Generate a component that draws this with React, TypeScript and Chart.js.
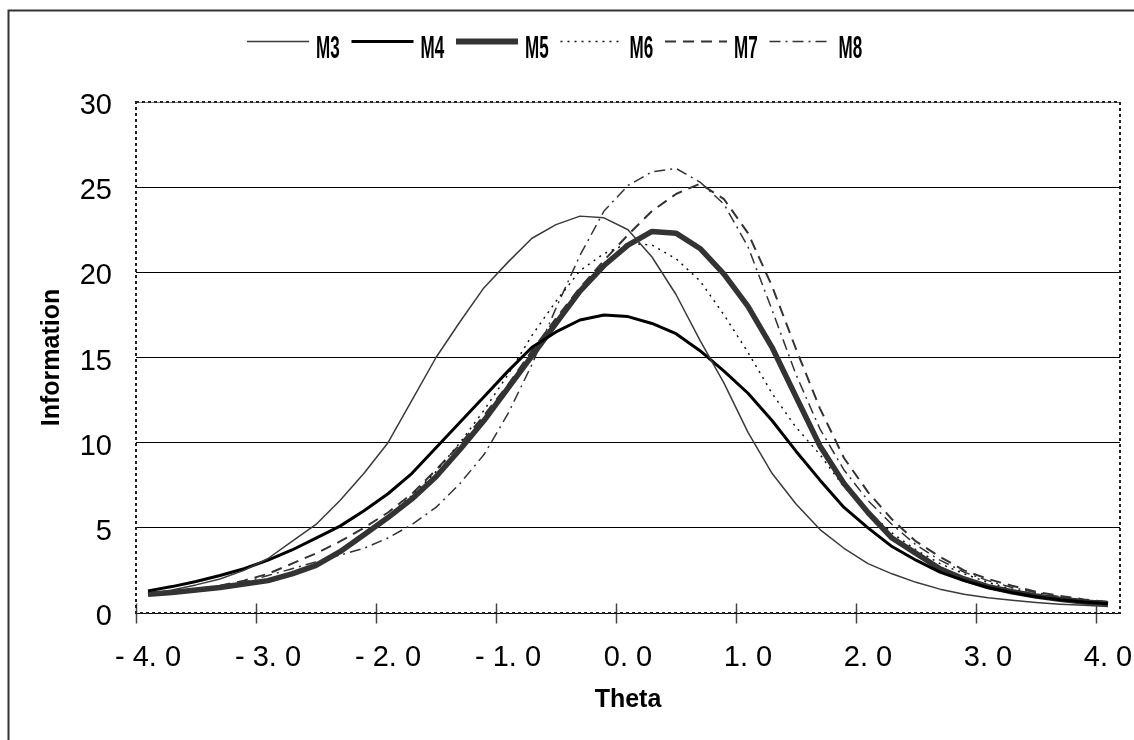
import React, { useEffect, useRef } from "react";
import { Chart, registerables } from "chart.js";

Chart.register(...registerables);

// ---- data ----
const thetas = [
  -4.0, -3.8, -3.6, -3.4, -3.2, -3.0, -2.8, -2.6, -2.4, -2.2,
  -2.0, -1.8, -1.6, -1.4, -1.2, -1.0, -0.8, -0.6, -0.4, -0.2,
  0.0, 0.2, 0.4, 0.6, 0.8, 1.0, 1.2, 1.4, 1.6, 1.8,
  2.0, 2.2, 2.4, 2.6, 2.8, 3.0, 3.2, 3.4, 3.6, 3.8, 4.0,
];

const xTickLabels = ["- 4. 0", "- 3. 0", "- 2. 0", "- 1. 0", "0. 0", "1. 0", "2. 0", "3. 0", "4. 0"];
const xLabelEvery = 5;

const yMin = 0;
const yMax = 30;
const yStep = 5;

const seriesNames = ["M3", "M4", "M5", "M6", "M7", "M8"];

const M3 = [
  1.1, 1.35, 1.65, 2.0, 2.5, 3.2, 4.2, 5.2, 6.6, 8.2,
  10.0, 12.5, 15.0, 17.1, 19.1, 20.6, 22.0, 22.8, 23.3, 23.2,
  22.5, 20.9, 18.7, 16.0, 13.5, 10.6, 8.2, 6.4, 4.9, 3.8,
  2.9, 2.3, 1.8, 1.4, 1.1, 0.9, 0.75, 0.62, 0.52, 0.45, 0.38,
];
const M4 = [
  1.3, 1.55, 1.85, 2.2, 2.6, 3.1, 3.7, 4.4, 5.1, 6.0,
  7.0, 8.2, 9.7, 11.2, 12.7, 14.2, 15.6, 16.5, 17.2, 17.5,
  17.4, 17.0, 16.4, 15.4, 14.2, 12.9, 11.3, 9.5, 7.8, 6.2,
  5.0, 3.9, 3.1, 2.4, 1.9, 1.5, 1.2, 0.95, 0.78, 0.65, 0.55,
];
const M5 = [
  1.1, 1.2, 1.35, 1.5, 1.7, 1.9, 2.3, 2.8, 3.6, 4.6,
  5.6, 6.7, 8.0, 9.6, 11.3, 13.2, 15.1, 17.0, 18.9, 20.4,
  21.6, 22.4, 22.3, 21.4, 19.9, 18.0, 15.6, 12.7, 9.8, 7.6,
  5.9, 4.4, 3.5, 2.6, 2.0, 1.55, 1.25, 1.0, 0.8, 0.65, 0.55,
];
const M6 = [
  1.1, 1.2, 1.35, 1.5, 1.7, 1.95, 2.35, 2.9, 3.6, 4.6,
  5.7, 6.9, 8.3, 10.0, 11.9, 14.0, 16.3, 18.3, 20.1, 21.1,
  21.7, 21.6, 20.8, 19.5, 17.5, 15.3, 12.9, 10.9, 9.3, 7.4,
  6.0, 4.7, 3.7, 2.9, 2.3, 1.8, 1.4, 1.1, 0.9, 0.75, 0.62,
];
const M7 = [
  1.1, 1.2, 1.4, 1.6, 1.9, 2.3, 2.9, 3.5, 4.2, 5.0,
  5.9, 7.0, 8.4, 9.9, 11.6, 13.4, 15.4, 17.3, 19.1, 20.7,
  22.2, 23.6, 24.6, 25.2, 24.3, 22.3, 19.2, 15.5, 12.0, 9.1,
  7.1, 5.5, 4.2, 3.3, 2.5, 2.0, 1.6, 1.25, 1.0, 0.8, 0.65,
];
const M8 = [
  1.05, 1.2, 1.35, 1.55, 1.8, 2.2, 2.6, 3.0, 3.4, 3.8,
  4.4, 5.2, 6.2, 7.6, 9.3, 11.7, 14.6, 17.9, 21.0, 23.6,
  25.1, 25.9, 26.1, 25.3, 24.0, 21.5, 17.8, 14.0, 10.8, 8.4,
  6.6, 5.2, 4.0, 3.1, 2.4, 1.9, 1.5, 1.2, 0.95, 0.75, 0.6,
];

const seriesValues = [M3, M4, M5, M6, M7, M8];

// ---- styles ----
const seriesStyles = [
  { color: "#3a3a3a", width: 1.5, dash: [] as number[] },
  { color: "#000000", width: 3, dash: [] as number[] },
  { color: "#333333", width: 5.5, dash: [] as number[] },
  { color: "#111111", width: 1.5, dash: [2, 5] },
  { color: "#333333", width: 2, dash: [11, 7] },
  { color: "#333333", width: 1.5, dash: [11, 5, 2, 5] },
];

const FONT = "'Liberation Sans', Arial, sans-serif";

const chromePlugin = {
  id: "chrome",
  beforeDraw(chart: any) {
    const ctx = chart.ctx;
    ctx.save();
    ctx.fillStyle = "#ffffff";
    ctx.fillRect(0, 0, chart.width, chart.height);
    ctx.strokeStyle = "#333333";
    ctx.lineWidth = 2;
    ctx.strokeRect(8.5, 10.5, chart.width + 100, chart.height + 100);
    ctx.restore();
  },
  beforeDatasetsDraw(chart: any) {
    const { ctx, chartArea: ca, scales } = chart;
    const xs = scales.x;
    ctx.save();
    const by = Math.round(ca.bottom) + 0.5;
    ctx.strokeStyle = "#000";
    ctx.lineWidth = 1;
    ctx.beginPath();
    ctx.moveTo(ca.left, by);
    ctx.lineTo(ca.right, by);
    ctx.stroke();
    const half = (xs.getPixelForValue(1) - xs.getPixelForValue(0)) / 2;
    ctx.strokeStyle = "#444";
    ctx.lineWidth = 1.5;
    for (let i = 0; i < thetas.length; i += xLabelEvery) {
      const px = Math.round(xs.getPixelForValue(i) - half) + 0.5;
      ctx.beginPath();
      ctx.moveTo(px, by - 10);
      ctx.lineTo(px, by + 10);
      ctx.stroke();
    }
    ctx.setLineDash([3, 3]);
    ctx.lineWidth = 2;
    ctx.strokeStyle = "#222";
    ctx.strokeRect(ca.left, ca.top, ca.right - ca.left, ca.bottom - ca.top);
    ctx.restore();
  },
  afterDraw(chart: any) {
    const ctx = chart.ctx;
    const startX = 247;
    const pitch = 104.5;
    const lineLen = 62;
    const lineY = 41.5;
    const baseY = 57.5;
    ctx.save();
    chart.data.datasets.forEach((ds: any, i: number) => {
      const x0 = startX + i * pitch;
      ctx.save();
      ctx.strokeStyle = ds.borderColor;
      ctx.lineWidth = ds.borderWidth + (i === 2 ? 0.5 : 0);
      ctx.setLineDash(ds.borderDash || []);
      ctx.beginPath();
      ctx.moveTo(x0, lineY);
      ctx.lineTo(x0 + lineLen, lineY);
      ctx.stroke();
      ctx.restore();
      ctx.save();
      ctx.translate(x0 + lineLen + 7, baseY);
      ctx.scale(0.55, 1);
      ctx.font = `bold 31px ${FONT}`;
      ctx.fillStyle = "#000";
      ctx.textBaseline = "alphabetic";
      ctx.textAlign = "left";
      ctx.fillText(ds.label, 0, 0);
      ctx.restore();
    });
    ctx.restore();
  },
};

export default function App() {
  const ref = useRef<HTMLCanvasElement | null>(null);

  useEffect(() => {
    if (!ref.current) return;
    Chart.defaults.font.family = FONT;
    const chart = new Chart(ref.current, {
      type: "line",
      data: {
        labels: thetas.map((t) => t.toFixed(1)),
        datasets: seriesNames.map((name, i) => ({
          label: name,
          data: seriesValues[i],
          borderColor: seriesStyles[i].color,
          backgroundColor: seriesStyles[i].color,
          borderWidth: seriesStyles[i].width,
          borderDash: seriesStyles[i].dash,
          pointRadius: 0,
          pointHoverRadius: 0,
          tension: 0,
          fill: false,
          borderCapStyle: "butt" as const,
          borderJoinStyle: "round" as const,
        })),
      },
      options: {
        responsive: false,
        animation: false,
        devicePixelRatio: 1,
        layout: { padding: { left: 0, right: 14, top: 102, bottom: 25 } },
        plugins: {
          legend: { display: false },
          tooltip: { enabled: false },
        },
        scales: {
          x: {
            type: "category",
            offset: true,
            grid: { display: false, drawTicks: false },
            border: { display: false },
            ticks: {
              autoSkip: false,
              maxRotation: 0,
              minRotation: 0,
              padding: 28,
              color: "#000",
              font: { size: 29, family: FONT },
              callback: (_v: any, index: number) =>
                index % xLabelEvery === 0 ? xTickLabels[index / xLabelEvery] : "",
            },
            title: {
              display: true,
              text: "Theta",
              color: "#000",
              font: { size: 25, weight: "bold", family: FONT },
              padding: { top: 0, bottom: 0 },
            },
            afterFit: (s: any) => {
              s.height = 102;
              s.paddingLeft = 0;
              s.paddingRight = 0;
            },
          },
          y: {
            min: yMin,
            max: yMax,
            grid: {
              drawTicks: false,
              lineWidth: 1,
              color: (c: any) =>
                c.tick && c.tick.value === yMin
                  ? "rgba(0,0,0,0)"
                  : c.tick && c.tick.value === yMax
                  ? "#808080"
                  : "#000000",
            },
            border: { display: false },
            ticks: {
              stepSize: yStep,
              padding: 24,
              labelOffset: 4,
              color: "#000",
              font: { size: 29, family: FONT },
            },
            title: {
              display: true,
              text: "Information",
              color: "#000",
              font: { size: 25, weight: "bold", family: FONT },
              padding: { top: 37, bottom: 0 },
            },
            afterFit: (s: any) => {
              s.width = 136;
              s.paddingTop = 0;
              s.paddingBottom = 0;
            },
          },
        },
      },
      plugins: [chromePlugin],
    });
    return () => chart.destroy();
  }, []);

  return (
    <div style={{ position: "fixed", left: 0, top: 0, width: 1134, height: 740 }}>
      <canvas ref={ref} width={1134} height={740} style={{ display: "block" }} />
    </div>
  );
}
